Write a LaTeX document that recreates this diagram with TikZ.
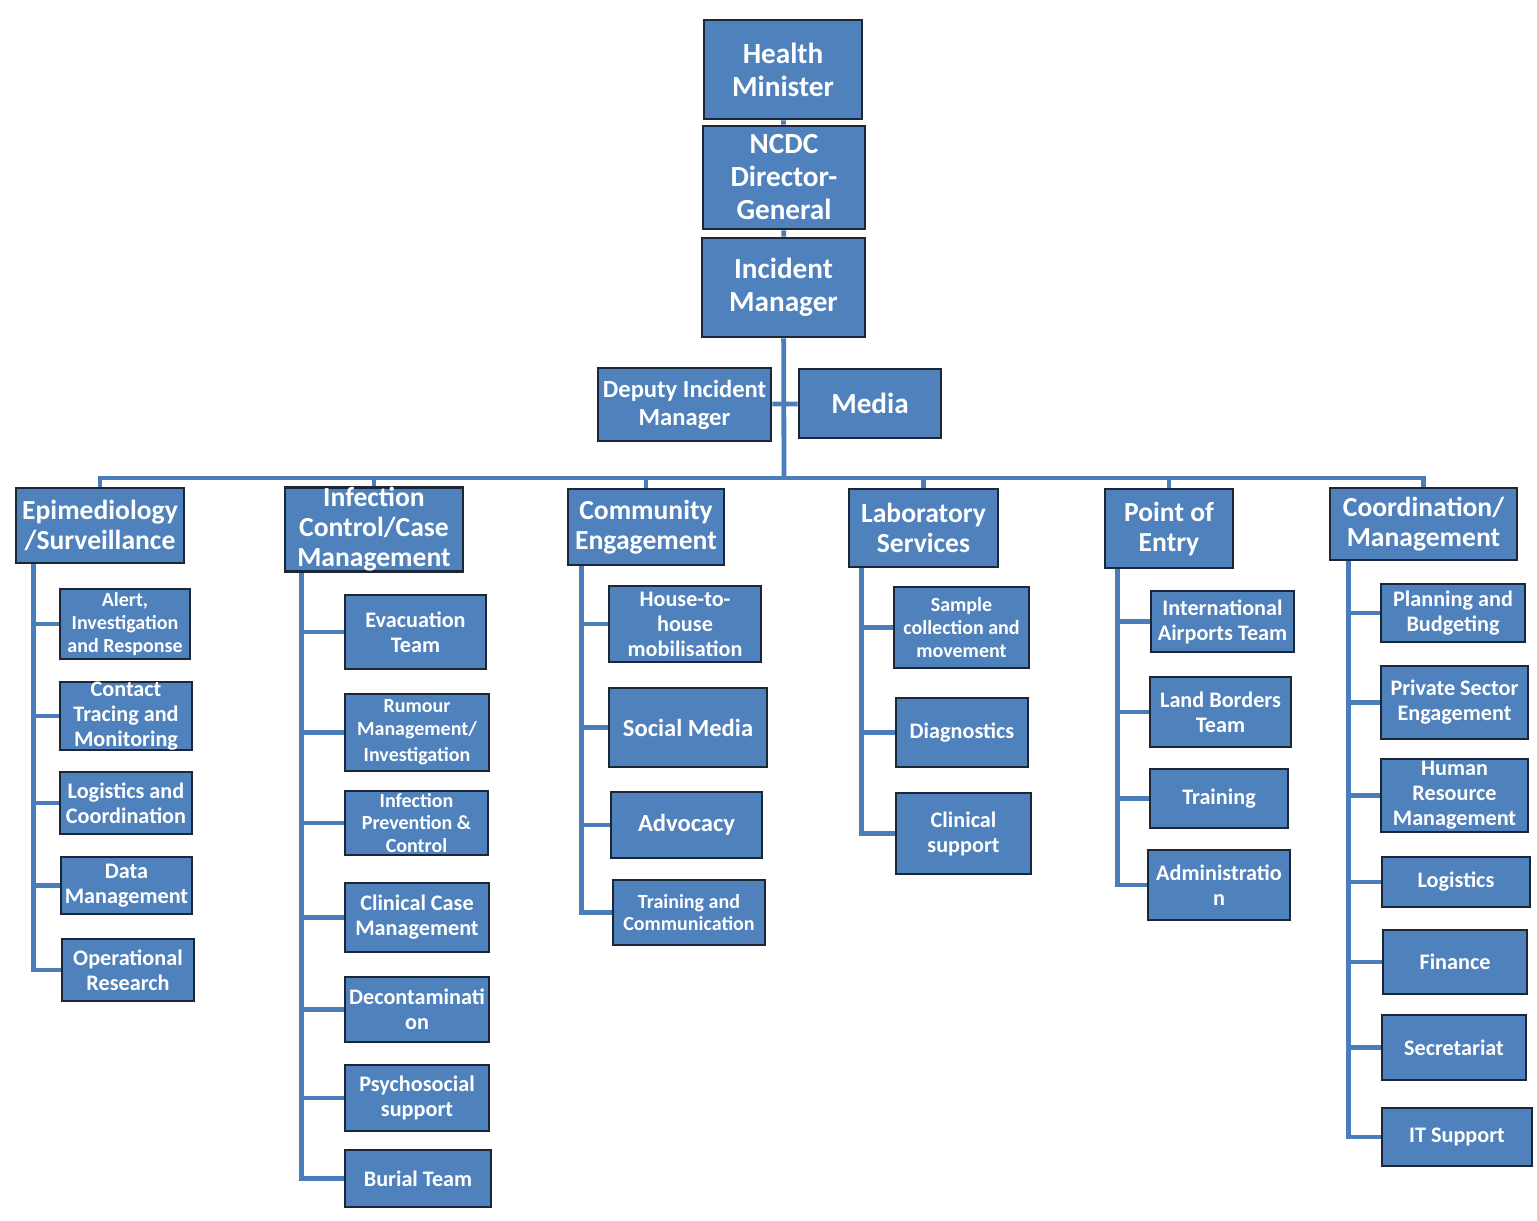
\documentclass[tikz,border=0pt]{standalone}
\usepackage{fontspec}
\setmainfont{Carlito}
\usetikzlibrary{calc}
\definecolor{boxblue}{HTML}{4F81BD}
\definecolor{boxedge}{HTML}{1B2636}
\definecolor{linkblue}{HTML}{4A7DBA}
\tikzset{
  box/.style={draw=boxedge, line width=1.3pt, fill=boxblue, text=white, align=center, inner sep=0pt},
  link/.style={draw=linkblue, line width=2.4pt},
  big/.style={font=\bfseries\fontsize{14.6}{16.5}\selectfont},
  head/.style={font=\bfseries\fontsize{13.8}{15}\selectfont},
  large/.style={font=\bfseries\fontsize{12.3}{14}\selectfont},
  norm/.style={font=\bfseries\fontsize{11.1}{12.5}\selectfont},
  small/.style={font=\bfseries\fontsize{10}{11.3}\selectfont}
}
\def\orgbox[#1](#2)(#3:#4)#5#6{\node[box,#1,minimum width=#3*0.5pt,minimum height=#4*0.5pt] (#5) at (#2) {#6};}

\begin{document}
\begin{tikzpicture}[x=0.5pt,y=-0.5pt]
		%%%%% START %%%%%
		\useasboundingbox (0,0) rectangle (1537,1221);
		
		% top of the chart
		\orgbox[big](783,69.5)(158:99){hm}{Health\\Minister}
		\orgbox[big](784,177.5)(162:103){ncdc}{NCDC\\Director-\\General}
		\orgbox[big](783.5,287.5)(163:99){im}{Incident\\Manager}
		\orgbox[large](684.5,404.5)(173:73){dim}{Deputy Incident\\Manager}
		\orgbox[big](870,403.5)(142:69){media}{Media}
		
		% the six sections
		\orgbox[head](100,525.5)(168:75){epi}{Epimediology\\/Surveillance}
		\orgbox[head](374,529.5)(178:81){inf}{Infection\\Control/Case\\Management}
		\orgbox[head](646,527)(156:76){comm}{Community\\Engagement}
		\orgbox[head](923.5,528)(149:78){lab}{Laboratory\\Services}
		\orgbox[head](1169,528.5)(128:79){poe}{Point of\\Entry}
		\orgbox[head](1423.5,524)(187:72){coord}{Coordination/\\Management}
		
		% epidemiology
		\orgbox[small](125,624)(130:70){alert}{Alert,\\Investigation\\and Response}
		\orgbox[norm](126,716)(132:66){tracing}{Contact\\Tracing and\\Monitoring}
		\orgbox[norm](126,803)(132:62){logco}{Logistics and\\Coordination}
		\orgbox[norm](126.5,885.5)(131:57){datamgt}{Data\\Management}
		\orgbox[norm](128,970)(132:62){opres}{Operational\\Research}
		
		% infection control
		\orgbox[norm](415.5,632)(141:74){evac}{Evacuation\\Team}
		\orgbox[small](417,732.5)(144:77){rumour}{Rumour\\Management/\\[2pt]Investigation}
		\orgbox[small](416.5,823)(143:64){ipc}{Infection\\Prevention \&\\Control}
		\orgbox[norm](417,917.5)(144:69){ccm}{Clinical Case\\Management}
		\orgbox[norm](417,1009.5)(144:65){decon}{Decontaminati\\on}
		\orgbox[norm](417,1098)(144:66){psycho}{Psychosocial\\support}
		\orgbox[norm](418,1178.5)(146:57){burial}{Burial Team}
		
		% community engagement
		\orgbox[norm](685,624)(152:76){h2h}{House-to-\\house\\mobilisation}
		\orgbox[large](688,727.5)(158:79){socmed}{Social Media}
		\orgbox[large](686.5,825)(151:66){advoc}{Advocacy}
		\orgbox[small](689,912.5)(152:65){traincom}{Training and\\Communication}
		
		% laboratory
		\orgbox[small](961.5,627.5)(135:81){sample}{Sample\\collection and\\movement}
		\orgbox[norm](962,732.5)(132:69){diag}{Diagnostics}
		\orgbox[norm](963.5,833.5)(135:81){clinsup}{Clinical\\support}
		
		% point of entry
		\orgbox[norm](1222.5,621.5)(143:61){airports}{International\\Airports Team}
		\orgbox[norm](1220.5,712)(141:70){borders}{Land Borders\\Team}
		\orgbox[norm](1219,798.5)(138:59){training}{Training}
		\orgbox[norm](1219,885)(142:70){admin}{Administratio\\n}
		
		% coordination
		\orgbox[norm](1453,613)(144:58){planning}{Planning and\\Budgeting}
		\orgbox[norm](1454.5,702.5)(147:73){private}{Private Sector\\Engagement}
		\orgbox[norm](1454.5,795.5)(147:73){hrm}{Human\\Resource\\Management}
		\orgbox[norm](1456,882)(148:50){logist}{Logistics}
		\orgbox[norm](1455,962)(144:64){finance}{Finance}
		\orgbox[norm](1454,1047.5)(144:65){secret}{Secretariat}
		\orgbox[norm](1457,1137)(150:58){itsup}{IT Support}
		
		% connectors
		\coordinate (bus) at (784,478);
		\draw[link] (hm) -- (ncdc) -- (im);
		\draw[link] (im) -- (bus);
		\draw[link] (dim) -- (media);
		\foreach \h in {epi,inf,comm,lab,poe,coord}
			\draw[link] (bus) -| (\h);
		
		\foreach \c in {alert,tracing,logco,datamgt,opres}
			\draw[link] ($(epi.south west)+(19,0)$) |- (\c);
		\foreach \c in {evac,rumour,ipc,ccm,decon,psycho,burial}
			\draw[link] ($(inf.south west)+(18,0)$) |- (\c);
		\foreach \c in {h2h,socmed,advoc,traincom}
			\draw[link] ($(comm.south west)+(15,0)$) |- (\c);
		\foreach \c in {sample,diag,clinsup}
			\draw[link] ($(lab.south west)+(14,0)$) |- (\c);
		\foreach \c in {airports,borders,training,admin}
			\draw[link] ($(poe.south west)+(14,0)$) |- (\c);
		\foreach \c in {planning,private,hrm,logist,finance,secret,itsup}
			\draw[link] ($(coord.south west)+(20,0)$) |- (\c);
		
		%%%%% END %%%%%
	\end{tikzpicture}
\end{document}
